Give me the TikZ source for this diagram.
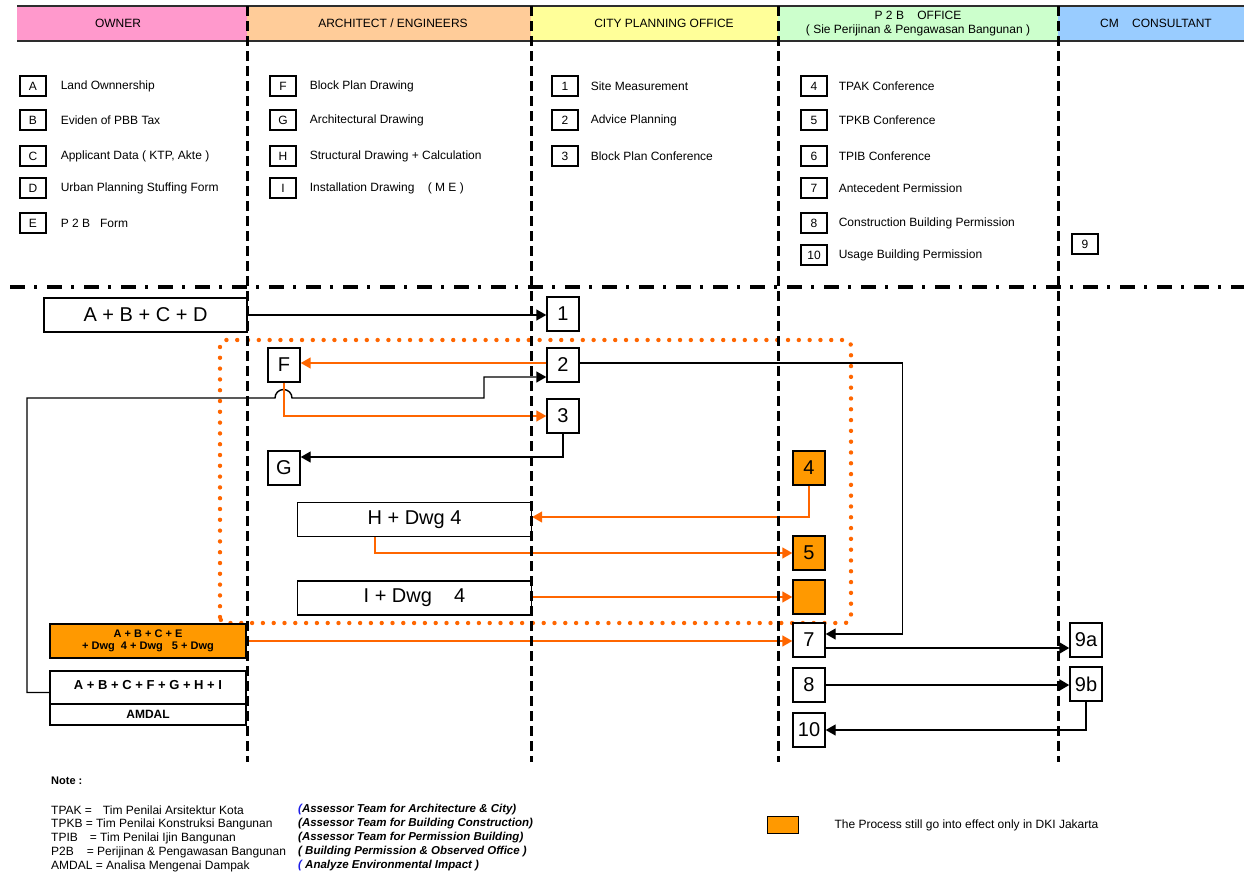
\documentclass[tikz,border=0pt]{standalone}
\usepackage{fontspec}
\setmainfont{Liberation Sans}
\usepackage{xcolor}
\usepackage{tikz}
\usetikzlibrary{arrows.meta,positioning,calc}
\definecolor{ownerpink}{RGB}{255,153,204}
\definecolor{archpeach}{RGB}{255,204,153}
\definecolor{cityyellow}{RGB}{255,255,153}
\definecolor{ptbgreen}{RGB}{204,255,204}
\definecolor{cmblue}{RGB}{153,204,255}
\definecolor{floworange}{RGB}{255,102,0}
\definecolor{jktorange}{RGB}{255,153,0}
\definecolor{noteblue}{RGB}{30,30,230}
\definecolor{rulegray}{RGB}{45,45,45}

\begin{document}
\begin{tikzpicture}[
    x=1pt, y=-1pt,
    font=\fontsize{12}{14}\selectfont,
    >={Triangle[length=10pt,width=11pt]},
    lane/.style={
        rectangle,
        anchor=north west,
        minimum height=35pt,
        inner sep=0pt
    },
    lanelabel/.style={
        align=center,
        inner sep=0pt
    },
    keybox/.style={
        rectangle,
        draw,
        line width=1.2pt,
        minimum width=26pt,
        minimum height=20pt,
        inner sep=0pt
    },
    keytext/.style={
        anchor=west,
        inner sep=0pt
    },
    stepbox/.style={
        rectangle,
        draw,
        line width=1.4pt,
        fill=white,
        minimum width=32pt,
        minimum height=34pt,
        inner sep=0pt,
        font=\fontsize{20}{22}\selectfont
    },
    jktbox/.style={
        stepbox,
        fill=jktorange
    },
    ownerbox/.style={
        rectangle,
        draw,
        line width=1.4pt,
        fill=white,
        minimum width=196pt,
        inner sep=0pt,
        align=center
    },
    arrow/.style={
        ->,
        line width=1.4pt,
        draw=black
    },
    boldarrow/.style={
        ->,
        line width=2.4pt,
        draw=black
    },
    oarrow/.style={
        ->,
        line width=1.5pt,
        draw=floworange
    },
    laneline/.style={
        line width=2.6pt,
        dash pattern=on 10pt off 5pt
    },
    cutline/.style={
        line width=3.4pt,
        dash pattern=on 15pt off 9pt on 3pt off 10pt
    },
    dotframe/.style={
        draw=floworange,
        line width=4.4pt,
        line cap=round,
        dash pattern=on 0pt off 10.8pt,
        rounded corners=6pt
    },
    notetext/.style={
        anchor=west,
        inner sep=0pt
    },
    meaning/.style={
        anchor=west,
        inner sep=0pt,
        font=\fontsize{11.5}{13}\selectfont\bfseries\itshape
    }
]

\useasboundingbox (0,0) rectangle (1244,876);

% header lanes
\node[lane, fill=ownerpink, minimum width=230pt] (owner) at (17,6) {};
\node[lane, fill=archpeach, minimum width=284pt] (arch) at (247,6) {};
\node[lane, fill=cityyellow, minimum width=247pt] (city) at (531,6) {};
\node[lane, fill=ptbgreen, minimum width=280pt] (ptb) at (778,6) {};
\node[lane, fill=cmblue, minimum width=186pt] (cm) at (1058,6) {};

\draw[rulegray, line width=2pt] (owner.north west) -- (cm.north east);
\draw[rulegray, line width=2pt] (owner.south west) -- (cm.south east);

\node[lanelabel] (ownerlbl) at (118,23) {OWNER};
\node[lanelabel] (archlbl) at (393,23) {ARCHITECT / ENGINEERS};
\node[lanelabel] (citylbl) at (664,23) {CITY PLANNING OFFICE};
\node[lanelabel, font=\fontsize{12}{14}\selectfont] (ptblbl) at (918,24) {P 2 B\ \ \ \ OFFICE\\( Sie Perijinan \& Pengawasan Bangunan )};
\node[lanelabel] (cmlbl) at (1156,23) {CM\ \ \ \ CONSULTANT};

% key of documents and steps
\node[keybox] (keyA) at (33,86) {A};
\node[keybox] (keyB) at (33,120) {B};
\node[keybox] (keyC) at (33,156) {C};
\node[keybox] (keyD) at (33,188) {D};
\node[keybox] (keyE) at (33,223) {E};
\node[keytext, right=14pt of keyA] (keyAtxt) {Land Ownnership};
\node[keytext, right=14pt of keyB] (keyBtxt) {Eviden of PBB Tax};
\node[keytext, right=14pt of keyC] (keyCtxt) {Applicant Data ( KTP, Akte )};
\node[keytext, right=14pt of keyD] (keyDtxt) {Urban Planning Stuffing Form};
\node[keytext, right=14pt of keyE] (keyEtxt) {P 2 B\ \ \ Form};

\node[keybox] (keyF) at (283,86) {F};
\node[keybox] (keyG) at (283,120) {G};
\node[keybox] (keyH) at (283,156) {H};
\node[keybox] (keyI) at (283,188) {I};
\node[keytext, right=13pt of keyF] (keyFtxt) {Block Plan Drawing};
\node[keytext, right=13pt of keyG] (keyGtxt) {Architectural Drawing};
\node[keytext, right=13pt of keyH] (keyHtxt) {Structural Drawing + Calculation};
\node[keytext, right=13pt of keyI] (keyItxt) {Installation Drawing\ \ \ \ ( M E )};

\node[keybox] (key1) at (565,86) {1};
\node[keybox] (key2) at (565,120) {2};
\node[keybox] (key3) at (565,156) {3};
\node[keytext, right=12pt of key1] (key1txt) {Site Measurement};
\node[keytext, right=12pt of key2] (key2txt) {Advice Planning};
\node[keytext, right=12pt of key3] (key3txt) {Block Plan Conference};

\node[keybox] (key4) at (814,86) {4};
\node[keybox] (key5) at (814,120) {5};
\node[keybox] (key6) at (814,156) {6};
\node[keybox] (key7) at (814,188) {7};
\node[keybox] (key8) at (814,223) {8};
\node[keybox] (key10) at (814,255) {10};
\node[keytext, right=11pt of key4] (key4txt) {TPAK Conference};
\node[keytext, right=11pt of key5] (key5txt) {TPKB Conference};
\node[keytext, right=11pt of key6] (key6txt) {TPIB Conference};
\node[keytext, right=11pt of key7] (key7txt) {Antecedent Permission};
\node[keytext, right=11pt of key8] (key8txt) {Construction Building Permission};
\node[keytext, right=11pt of key10] (key10txt) {Usage Building Permission};

\node[keybox] (key9) at (1085,244) {9};

\draw[cutline] (10,287) -- (1244,287);

% process frame (DKI Jakarta)
\draw[dotframe] (220,623) -- (220,340) -- (851,340) -- (851,623) -- cycle;

% process boxes
\node[stepbox, minimum width=203pt] (abcd) at (145.5,315) {A + B + C + D};
\node[stepbox] (s1) at (563,314) {1};
\node[stepbox] (dF) at (284,365) {F};
\node[stepbox] (s2) at (563,365) {2};
\node[stepbox] (s3) at (563,416) {3};
\node[stepbox] (dG) at (284,468) {G};
\node[jktbox] (s4) at (809,468) {4};
\node[stepbox, minimum width=234pt] (hdwg) at (414.5,519.5) {H + Dwg 4};
\node[jktbox] (s5) at (809,553) {5};
\node[stepbox, minimum width=234pt] (idwg) at (414.5,598) {I + Dwg\ \ \ \ 4};
\node[jktbox] (s6) at (809,597) {};
\node[stepbox] (s7) at (809,640) {7};
\node[stepbox] (s8) at (809,685) {8};
\node[stepbox] (s10) at (809,730) {10};
\node[stepbox] (s9a) at (1086,640) {9a};
\node[stepbox] (s9b) at (1086,684) {9b};

\node[ownerbox, fill=jktorange, minimum height=34pt, font=\fontsize{11}{12}\selectfont\bfseries] (abce) at (148,641) {A + B + C + E\\+ Dwg\ \ 4 + Dwg\ \ \ 5 + Dwg};
\node[ownerbox, minimum height=33pt, font=\fontsize{13}{14}\selectfont\bfseries] (abcf) at (148,687.5) {\raisebox{5pt}{A + B + C + F + G + H + I}};
\node[ownerbox, minimum height=21pt, font=\fontsize{12}{13}\selectfont\bfseries] (amdal) at (148,714.5) {AMDAL};

% connectors
\coordinate (hopL) at (275,398);
\coordinate (in2) at ($(s2.west)+(0,12)$);

\draw[arrow] (abcd.east) -- (abcd.east -| s1.west);
\draw[oarrow] ([yshift=2pt]s2.west) -- ([yshift=2pt]s2.west -| dF.east);
\draw[arrow] ([yshift=-5pt]abcf.west) -| (27,398) -- (hopL) arc[start angle=180, end angle=0, radius=8.5pt] -- (484,398) |- (in2);
\draw[oarrow] (dF.south) |- (s3.west);
\draw[arrow] (s3.south) |- ([yshift=11pt]dG.east);
\draw[arrow] ([yshift=2pt]s2.east) -- ++(323,0) |- ([yshift=6pt]s7.east);
\draw[oarrow] (s4.south) |- ([yshift=2.5pt]hdwg.east);
\draw[oarrow] ([xshift=-39.5pt]hdwg.south) |- (s5.west);
\draw[oarrow] ([yshift=1pt]idwg.east) -- ([yshift=1pt]idwg.east -| s6.west);
\draw[oarrow] (abce.east) -- (abce.east -| s7.west);
\draw[boldarrow] ([yshift=-8pt]s7.east) -- ([yshift=-8pt]s7.east -| s9a.west);
\draw[boldarrow] (s8.east) -- (s8.east -| s9b.west);
\draw[arrow] (s9b.south) |- (s10.east);

% lane separators
\draw[laneline] (owner.north east) -- ++(0,756);
\draw[laneline] (arch.north east) -- ++(0,756);
\draw[laneline] (city.north east) -- ++(0,756);
\draw[laneline] (ptb.north east) -- ++(0,756);

% notes
\node[notetext, font=\fontsize{11}{12}\selectfont\bfseries] (note) at (51,781) {Note :};
\node[notetext] (noteTPAK) at (51,810) {TPAK =\hspace{11pt}Tim Penilai Arsitektur Kota};
\node[notetext] (noteTPKB) at (51,824) {TPKB = Tim Penilai Konstruksi Bangunan};
\node[notetext] (noteTPIB) at (51,838) {TPIB\hspace{12pt}= Tim Penilai Ijin Bangunan};
\node[notetext] (noteP2B) at (51,852) {P2B\hspace{13pt}= Perijinan \& Pengawasan Bangunan};
\node[notetext] (noteAMDAL) at (51,866) {AMDAL = Analisa Mengenai Dampak};
\node[meaning] (meanTPAK) at (298,810) {{\color{noteblue}(}Assessor Team for Architecture \& City)};
\node[meaning] (meanTPKB) at (298,824) {(Assessor Team for Building Construction)};
\node[meaning] (meanTPIB) at (298,838) {(Assessor Team for Permission Building)};
\node[meaning] (meanP2B) at (298,852) {( Building Permission \& Observed Office )};
\node[meaning] (meanAMDAL) at (298,866) {{\color{noteblue}(} Analyze Environmental Impact )};

\node[rectangle, draw, line width=1.6pt, fill=jktorange, minimum width=31pt, minimum height=17pt, inner sep=0pt] (jktkey) at (783,825) {};
\node[notetext, right=35pt of jktkey] (jkttxt) {The Process still go into effect only in DKI Jakarta};

\end{tikzpicture}
\end{document}
